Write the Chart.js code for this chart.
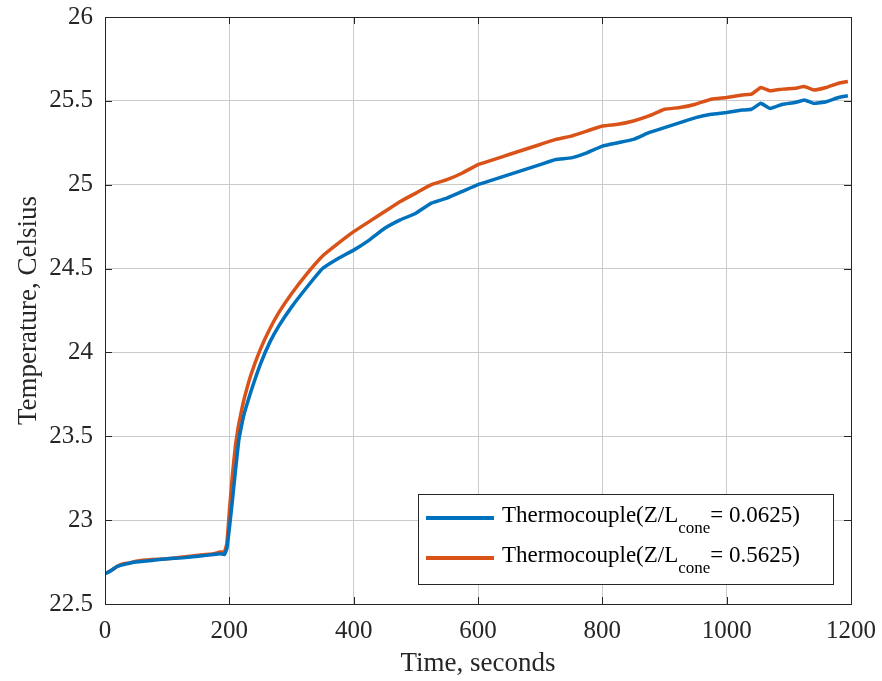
<!DOCTYPE html>
<html>
<head>
<meta charset="utf-8">
<script src="https://cdn.jsdelivr.net/npm/chart.js@4.4.0/dist/chart.umd.min.js"></script>
<style>
  html, body { margin: 0; padding: 0; background: #ffffff; }
  #wrap { width: 882px; height: 681px; }
</style>
</head>
<body>
<div id="wrap"><canvas id="grafico"></canvas></div>
<script>
// datos
const tiempos = [0, 10, 20, 30, 40, 50, 75, 100, 125, 150, 175, 185, 192, 196, 200, 205, 210, 215, 220, 225,
    235, 250, 265, 280, 300, 325, 350, 375, 400, 425, 450, 475, 500, 525, 550, 575, 600, 625, 650, 675,
    700, 725, 750, 775, 800, 825, 850, 875, 900, 925, 950, 975, 1000, 1025, 1040, 1055, 1070, 1090, 1110, 1125,
    1140, 1160, 1180, 1195]

const temp_z0625 = [22.68, 22.70, 22.725, 22.735, 22.745, 22.75, 22.76, 22.77, 22.775, 22.785, 22.795, 22.80, 22.795, 22.83, 22.95, 23.12, 23.30, 23.47, 23.57, 23.65,
    23.77, 23.93, 24.06, 24.16, 24.27, 24.39, 24.50, 24.56, 24.61, 24.67, 24.74, 24.79, 24.83, 24.89, 24.92, 24.96, 25.00, 25.03, 25.06, 25.09,
    25.12, 25.15, 25.16, 25.19, 25.23, 25.25, 25.27, 25.31, 25.34, 25.37, 25.40, 25.42, 25.43, 25.445, 25.45, 25.485, 25.455, 25.48, 25.49, 25.505,
    25.485, 25.495, 25.52, 25.53]

const temp_z5625 = [22.68, 22.70, 22.725, 22.74, 22.745, 22.755, 22.765, 22.77, 22.78, 22.79, 22.80, 22.81, 22.81, 22.86, 23.05, 23.27, 23.45, 23.57, 23.66, 23.74,
    23.87, 24.02, 24.14, 24.24, 24.35, 24.47, 24.575, 24.65, 24.72, 24.78, 24.84, 24.90, 24.95, 25.00, 25.03, 25.07, 25.12, 25.15, 25.18, 25.21,
    25.24, 25.27, 25.29, 25.32, 25.35, 25.36, 25.38, 25.41, 25.45, 25.46, 25.48, 25.51, 25.52, 25.535, 25.54, 25.58, 25.56, 25.57, 25.575, 25.585,
    25.565, 25.58, 25.605, 25.615]

const ticks_x = [0, 200, 400, 600, 800, 1000, 1200]
const ticks_y = [22.5, 23, 23.5, 24, 24.5, 25, 25.5, 26]
const valores_leyenda = ['0.0625', '0.5625']

const color_azul = '#0072BD'
const color_naranja = '#D95319'
const color_eje = '#262626'
const color_grilla = '#cbcbcb'
const fuente = "'Liberation Serif', 'Times New Roman', serif"

function puntos(xs, ys) {
    return xs.map((x, i) => ({ x: x, y: ys[i] }))
}

// caja, marcas interiores y leyenda estilo matlab
const plugin_matlab = {
    id: 'matlab',
    afterDraw(chart) {
        const ctx = chart.ctx
        const a = chart.chartArea
        const sx = chart.scales.x
        const sy = chart.scales.y
        ctx.save()
        ctx.strokeStyle = color_eje
        ctx.lineWidth = 1
        ctx.strokeRect(a.left + 0.5, a.top + 0.5, a.right - a.left, a.bottom - a.top)
        const largo = 7
        ctx.beginPath()
        ticks_x.forEach(v => {
            const px = Math.round(sx.getPixelForValue(v)) + 0.5
            ctx.moveTo(px, a.bottom); ctx.lineTo(px, a.bottom - largo)
            ctx.moveTo(px, a.top); ctx.lineTo(px, a.top + largo)
        })
        ticks_y.forEach(v => {
            const py = Math.round(sy.getPixelForValue(v)) + 0.5
            ctx.moveTo(a.left, py); ctx.lineTo(a.left + largo, py)
            ctx.moveTo(a.right, py); ctx.lineTo(a.right - largo, py)
        })
        ctx.stroke()

        // leyenda
        const bx = 418, by = 494, bw = 415, bh = 90
        ctx.fillStyle = '#ffffff'
        ctx.fillRect(bx, by, bw, bh)
        ctx.strokeStyle = color_eje
        ctx.strokeRect(bx + 0.5, by + 0.5, bw, bh)
        chart.data.datasets.forEach((ds, i) => {
            const yl = by + 24 + i * 40
            ctx.strokeStyle = ds.borderColor
            ctx.lineWidth = 4
            ctx.beginPath()
            ctx.moveTo(bx + 8, yl); ctx.lineTo(bx + 76, yl)
            ctx.stroke()
            ctx.fillStyle = '#000000'
            ctx.textBaseline = 'middle'
            ctx.textAlign = 'left'
            ctx.font = `23px ${fuente}`
            let tx = bx + 84
            const t1 = 'Thermocouple(Z/L'
            ctx.fillText(t1, tx, yl - 2)
            tx += ctx.measureText(t1).width
            ctx.font = `17px ${fuente}`
            ctx.fillText('cone', tx, yl + 11)
            tx += ctx.measureText('cone').width
            ctx.font = `23px ${fuente}`
            ctx.fillText('= ' + valores_leyenda[i] + ')', tx, yl - 2)
        })
        ctx.restore()
    }
}

let lienzo = document.querySelector('#grafico')
lienzo.width = 882
lienzo.height = 681

const grafico_temp = new Chart(lienzo, {
    type: 'line',
    data: {
        datasets: [
            {
                label: 'Thermocouple(Z/Lcone = 0.0625)',
                data: puntos(tiempos, temp_z0625),
                borderColor: color_azul,
                borderWidth: 3.5,
                tension: 0.1,
            },
            {
                label: 'Thermocouple(Z/Lcone = 0.5625)',
                data: puntos(tiempos, temp_z5625),
                borderColor: color_naranja,
                borderWidth: 3.5,
                tension: 0.1,
            },
        ],
    },
    options: {
        responsive: false,
        animation: false,
        layout: {
            padding: { left: 0, top: 17, right: 31, bottom: 0 }
        },
        scales: {
            x: {
                type: 'linear',
                min: 0,
                max: 1200,
                afterFit: s => { s.height = 77; s.paddingLeft = 0; s.paddingRight = 0 },
                afterBuildTicks: s => { s.ticks = ticks_x.map(v => ({ value: v })) },
                ticks: {
                    color: color_eje,
                    padding: 12,
                    maxRotation: 0,
                    font: { family: fuente, size: 25 },
                    callback: v => String(v),
                },
                grid: {
                    color: color_grilla,
                    drawTicks: false,
                },
                border: { display: false },
                title: {
                    display: true,
                    text: 'Time, seconds',
                    color: color_eje,
                    font: { family: fuente, size: 27 },
                    padding: { top: 0, bottom: 1 },
                },
            },
            y: {
                type: 'linear',
                min: 22.5,
                max: 26,
                afterFit: s => { s.width = 105; s.paddingTop = 0; s.paddingBottom = 0 },
                afterBuildTicks: s => { s.ticks = ticks_y.map(v => ({ value: v })) },
                ticks: {
                    color: color_eje,
                    padding: 12,
                    font: { family: fuente, size: 25 },
                    callback: v => String(v),
                },
                grid: {
                    color: color_grilla,
                    drawTicks: false,
                },
                border: { display: false },
                title: {
                    display: true,
                    text: 'Temperature, Celsius',
                    color: color_eje,
                    font: { family: fuente, size: 27 },
                    padding: { top: 13, bottom: 0 },
                },
            },
        },
        plugins: {
            legend: { display: false },
            tooltip: { enabled: false },
        },
        elements: {
            point: { radius: 0 }
        },
    },
    plugins: [plugin_matlab],
})
</script>
</body>
</html>
